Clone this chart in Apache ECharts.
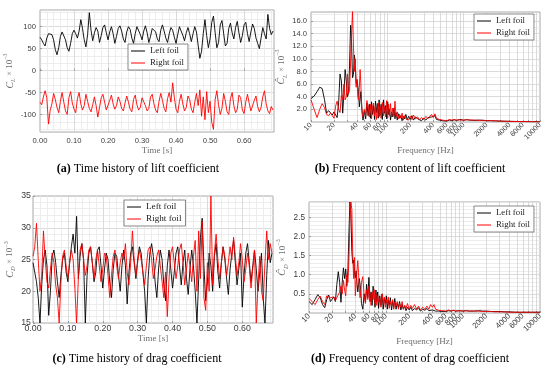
<!DOCTYPE html>
<html>
<head>
<meta charset="utf-8">
<script src="https://cdn.jsdelivr.net/npm/echarts@6/dist/echarts.min.js"></script>
<style>
html,body{margin:0;padding:0;background:#fff;}
#c{width:550px;height:375px;}
</style>
</head>
<body>
<div id="c"></div>
<script>
// ---------------- DATA ----------------
const timeS = [0.000,0.005,0.010,0.015,0.020,0.025,0.030,0.035,0.040,0.045,
0.050,0.055,0.060,0.065,0.070,0.075,0.080,0.085,0.090,0.095,
0.100,0.105,0.110,0.115,0.120,0.125,0.130,0.135,0.140,0.145,
0.150,0.155,0.160,0.165,0.170,0.175,0.180,0.185,0.190,0.195,
0.200,0.205,0.210,0.215,0.220,0.225,0.230,0.235,0.240,0.245,
0.250,0.255,0.260,0.265,0.270,0.275,0.280,0.285,0.290,0.295,
0.300,0.305,0.310,0.315,0.320,0.325,0.330,0.335,0.340,0.345,
0.350,0.355,0.360,0.365,0.370,0.375,0.380,0.385,0.390,0.395,
0.400,0.405,0.410,0.415,0.420,0.425,0.430,0.435,0.440,0.445,
0.450,0.455,0.460,0.465,0.470,0.475,0.480,0.485,0.490,0.495,
0.500,0.505,0.510,0.515,0.520,0.525,0.530,0.535,0.540,0.545,
0.550,0.555,0.560,0.565,0.570,0.575,0.580,0.585,0.590,0.595,
0.600,0.605,0.610,0.615,0.620,0.625,0.630,0.635,0.640,0.645,
0.650,0.655,0.660,0.665,0.670,0.675,0.680,0.685];

const liftLeft = [76,70,62,56,74,84,87,82,70,48, 36,52,78,88,84,70,52,44,62,84,
92,84,74,90,116,96,70,54,82,132, 92,68,86,98,90,64,80,98,104,86,
70,88,100,84,62,78,96,102,90,72, 64,88,100,94,74,62,84,100,96,82,
70,90,102,86,64,78,96,100,88,72, 66,92,104,90,74,64,84,98,92,76,
62,82,100,96,80,68,86,98,84,66, 84,100,88,58,28,44,84,116,80,52,
72,110,124,86,52,64,104,114,84,56, 62,96,108,86,72,98,112,86,64,80,
104,110,84,66,88,106,96,74,62,50, 74,98,84,72,128,96,82,90];

const liftRight = [-72,-78,-60,-46,-62,-122,-90,-76,-52,-66, -84,-96,-70,-50,-72,-92,-100,-62,-48,-74,
-88,-96,-64,-50,-76,-90,-80,-54,-70,-86, -94,-78,-60,-80,-106,-84,-62,-54,-72,-90,
-94,-68,-56,-76,-88,-80,-60,-70,-86,-92, -74,-58,-72,-88,-94,-66,-56,-78,-90,-84,
-62,-58,-80,-92,-86,-60,-54,-76,-90,-96, -70,-52,-68,-86,-94,-64,-50,-72,-28,-62,
-88,-96,-70,-54,-76,-92,-84,-58,-66,-88, -96,-72,-52,-80,-44,-104,-60,-112,-48,-96,
-70,-118,-134,-66,-46,-78,-100,-86,-52,-70, -94,-100,-64,-50,-80,-96,-88,-56,-62,-90,
-98,-72,-54,-74,-92,-96,-68,-58,-82,-94, -84,-60,-46,-76,-92,-98,-82,-90];

const dragLeft = [24.5,23.0,21.5,19.0,15.0,21.0,25.0,26.5,24.0,16.2, 20.0,25.5,26.5,24.5,21.5,19.0,22.5,25.0,26.0,23.0,
21.5,24.5,27.0,29.0,26.0,31.8,22.0,25.5,27.5,25.0, 15.0,22.5,26.0,27.0,24.5,21.5,23.0,26.5,27.0,24.0,
20.5,23.5,26.0,25.0,21.5,19.0,23.5,26.0,25.5,22.5, 20.0,24.0,26.5,24.0,18.0,23.0,26.0,27.0,24.5,22.0,
25.0,27.0,26.0,23.0,20.0,15.0,22.0,26.0,27.5,25.5, 21.5,19.0,23.5,26.5,25.0,21.0,18.5,24.0,26.5,23.5,
20.5,23.0,26.0,27.0,24.0,21.0,24.5,26.5,22.0,19.5, 23.5,26.5,24.0,20.0,15.0,22.0,28.5,31.5,24.0,18.5,
21.5,26.0,24.0,20.0,25.5,27.5,23.0,20.5,24.5,27.0, 25.0,22.0,19.5,23.5,26.0,28.0,24.5,21.0,23.5,26.0,
17.5,22.5,26.0,27.5,24.5,21.5,24.0,26.5,23.5,20.0, 23.0,26.0,19.0,15.0,22.5,28.0,24.5,26.0];

const dragRight = [25.5,27.0,30.7,25.0,20.0,22.5,29.5,25.0,21.5,20.5, 23.5,26.0,24.5,21.0,19.0,15.0,21.5,25.5,26.5,24.0,
22.0,24.5,26.5,25.0,20.5,15.0,22.0,26.5,27.5,25.0, 22.5,24.0,26.5,27.0,24.5,22.0,25.0,26.5,24.0,21.5,
23.5,26.0,25.5,22.5,19.0,22.5,25.5,26.5,24.0,22.0, 24.5,26.0,25.0,27.5,23.0,21.0,24.5,29.5,25.0,22.5,
24.5,26.5,25.0,23.0,21.0,24.0,26.5,27.0,25.0,22.0, 23.5,25.5,26.5,24.0,21.5,19.0,23.0,16.0,22.0,26.0,
27.0,24.5,22.0,24.0,26.5,27.5,24.5,21.0,23.5,26.0, 24.0,21.5,25.5,28.0,20.0,29.5,22.0,31.0,19.0,17.0,
24.5,20.0,35.0,21.0,26.0,29.0,25.0,22.0,24.5,27.0, 25.5,22.5,24.5,27.0,25.0,28.5,25.5,22.5,24.5,27.5,
25.0,21.5,23.5,26.0,24.0,20.5,23.5,26.5,15.0,21.0, 25.5,20.0,18.5,24.5,29.5,25.0,27.5,26.0];

const freqHz = [10,11,12,13,14,15,16,17,18,19, 20,21,22,23,24,25,26,27,28,29,
30,31,32,33,34,35,36,37,38,39, 40,41,42,43,44,45,46,47,48,50,
52,54,56,58,60,62,64,66,68,70, 72,74,76,78,80,83,86,89,92,95,
98,101,104,107,110,114,118,122,126,130, 135,140,145,150,156,162,168,175,182,190,
200,210,220,235,250,265,280,300,320,340, 360,380,400,420,440,460,480,500,530,560,
600,650,700,750,800,900,1000,1100,1200,1400, 1600,1800,2000,2300,2600,3000,3500,4000,5000,6000,
7000,8000,9000,10000];

const liftAmpLeft = [3.7,4.1,4.8,5.5,5.3,3.6,1.4,1.8,1.5,1.1, 1.6,1.5,0.7,3.0,7.6,6.5,1.4,4.5,8.3,6.5,
4.0,4.5,9.0,15.3,12.5,7.0,7.5,10.6,9.0,6.1, 6.6,6.8,4.8,2.4,3.5,4.8,3.0,1.2,0.3,1.8,
0.5,3.0,1.0,2.8,0.6,3.2,1.2,2.6,0.4,3.3, 1.5,2.9,0.6,3.5,1.0,2.8,0.4,3.5,1.4,2.6,
0.5,3.2,1.2,2.0,0.3,1.6,0.8,2.2,0.5,1.5, 0.3,1.3,0.6,1.0,0.2,0.9,0.5,1.2,0.3,0.9,
0.4,1.0,0.3,0.8,0.5,0.7,0.2,0.6,0.3,0.7, 0.4,0.8,0.5,1.0,0.4,0.7,0.3,0.5,0.2,0.35,
0.15,0.3,0.2,0.35,0.25,0.4,0.3,0.35,0.3,0.25, 0.3,0.25,0.22,0.2,0.18,0.15,0.12,0.1,0.08,0.06,
0.05,0.04,0.04,0.03];

const liftAmpRight = [3.5,2.0,0.7,2.0,2.9,2.3,1.2,1.0,1.4,1.0, 0.6,2.5,3.3,2.0,1.5,4.2,3.5,6.0,3.5,4.0,
7.6,4.5,5.0,9.5,14.0,17.5,12.0,8.0,10.0,5.5, 6.8,4.0,3.5,5.5,8.3,6.0,2.5,1.3,0.8,2.0,
1.0,3.4,2.5,0.8,2.8,0.5,2.4,3.0,1.0,2.6, 0.4,2.2,3.0,0.8,2.5,0.6,3.1,1.0,2.4,0.8,
3.4,0.6,2.8,1.0,2.9,0.8,2.2,1.0,3.3,0.8, 1.6,0.5,1.2,0.6,1.4,0.3,1.0,0.5,0.8,0.3,
0.9,0.4,1.1,0.5,0.8,0.3,0.7,0.4,0.9,0.5, 0.6,1.2,0.7,1.3,0.6,0.9,0.4,0.7,0.3,0.5,
0.2,0.4,0.3,0.4,0.3,0.35,0.25,0.4,0.3,0.3, 0.25,0.28,0.2,0.22,0.18,0.14,0.12,0.1,0.08,0.06,
0.05,0.04,0.03,0.03];

const dragAmpLeft = [0.30,0.22,0.35,0.48,0.40,0.22,0.14,0.35,0.47,0.30, 0.35,0.42,0.30,0.75,1.08,0.80,0.28,0.80,1.18,0.90,
1.15,0.70,1.10,2.10,2.90,2.60,1.60,1.30,1.38,1.05, 0.92,1.10,0.78,0.55,0.74,0.90,0.95,0.60,0.25,0.10,
0.50,0.30,0.75,0.40,0.93,0.30,0.55,0.20,0.70,0.45, 0.15,0.60,0.30,0.55,0.12,0.45,0.20,0.50,0.10,0.38,
0.25,0.45,0.10,0.35,0.20,0.40,0.08,0.30,0.15,0.38, 0.10,0.25,0.15,0.30,0.08,0.22,0.10,0.18,0.06,0.15,
0.08,0.15,0.06,0.12,0.08,0.14,0.05,0.10,0.07,0.12, 0.06,0.10,0.08,0.13,0.05,0.09,0.05,0.07,0.04,0.06,
0.04,0.06,0.05,0.07,0.05,0.06,0.05,0.06,0.05,0.05, 0.06,0.05,0.05,0.04,0.04,0.04,0.03,0.03,0.02,0.02,
0.02,0.02,0.02,0.02];

const dragAmpRight = [0.38,0.30,0.22,0.35,0.44,0.30,0.22,0.45,0.42,0.40, 0.38,0.42,0.32,0.40,0.45,0.55,0.70,0.50,0.85,0.60,
0.45,1.00,0.80,1.40,2.40,2.90,2.70,1.50,0.90,1.45, 0.45,0.80,1.10,1.37,1.05,0.65,0.40,0.55,0.80,0.95,
0.45,0.25,0.60,0.35,0.70,0.50,0.20,0.55,0.35,0.62, 0.25,0.50,0.20,0.45,0.30,0.40,0.15,0.50,0.25,0.42,
0.15,0.35,0.25,0.42,0.12,0.30,0.20,0.35,0.10,0.28, 0.18,0.30,0.10,0.25,0.15,0.30,0.10,0.20,0.12,0.25,
0.10,0.20,0.12,0.22,0.10,0.18,0.08,0.15,0.10,0.18, 0.10,0.22,0.15,0.22,0.10,0.15,0.07,0.10,0.06,0.09,
0.05,0.08,0.05,0.07,0.05,0.06,0.05,0.06,0.05,0.05, 0.05,0.04,0.04,0.04,0.03,0.03,0.03,0.02,0.02,0.02,
0.02,0.02,0.02,0.02];

const timeTicks = [0, 0.1, 0.2, 0.3, 0.4, 0.5, 0.6];
const liftTicks = [-100, -50, 0, 50, 100];
const dragTicks = [15, 20, 25, 30, 35];
const liftAmpTicks = [2, 4, 6, 8, 10, 12, 14, 16];
const dragAmpTicks = [0.5, 1.0, 1.5, 2.0, 2.5];
const freqTicks = [10, 20, 40, 60, 80, 100, 200, 400, 600, 800, 1000, 2000, 4000, 6000, 8000, 10000];
const freqGridLines = [10,20,30,40,50,60,70,80,90,100,200,300,400,500,600,700,800,900,1000,2000,3000,4000,5000,6000,7000,8000,9000,10000];
const seriesNames = ['Left foil', 'Right foil'];
const captions = [
  ['(a)', ' Time history of lift coefficient'],
  ['(b)', ' Frequency content of lift coefficient'],
  ['(c)', ' Time history of drag coefficient'],
  ['(d)', ' Frequency content of drag coefficient']
];

// ---------------- helpers ----------------
function minorsBetween(lo, hi, step, majorStep) {
  const out = [];
  const n = Math.round((hi - lo) / step);
  for (let k = 0; k <= n; k++) {
    const v = +(lo + k * step).toFixed(4);
    const r = v / majorStep;
    if (Math.abs(r - Math.round(r)) > 1e-6) out.push(v);
  }
  return out;
}
const SERIF = 'Liberation Serif';
const SANS = 'Liberation Sans';
const MAJ = '#d2d2d2';
const MIN = '#e9e9e9';
const NAMEC = '#6e6e6e';
const TICKC = '#3a3a3a';

const panels = [
  {grid:{left:40, top:10, width:234, height:122}, xType:'value', xMin:0, xMax:0.688, xTicks:timeTicks, xGrid:timeTicks,
   xMinor:minorsBetween(0,0.68,0.02,0.1), xFmt:v=>v.toFixed(2), xName:'Time [s]', xGap:14, xFont:7.6, xMargin:5, rot:0,
   yMin:-140, yMax:138, yTicks:liftTicks, yMinor:minorsBetween(-400/3,400/3,50/3,50), yFmt:v=>String(v), yFont:7.6, yMargin:4,
   yName:'{c|C}{s|L}{t| × 10}{p|−3}', yGap:21,
   left:liftLeft, right:liftRight, x:timeS,
   legend:{left:128, top:44}, legendFont:8.8},
  {grid:{left:311, top:12, width:229, height:110}, xType:'log', xMin:10, xMax:10000, xTicks:freqTicks, xGrid:freqGridLines,
   xMinor:null, xFmt:v=>String(Math.round(v)), xName:'Frequency [Hz]', xGap:24, xFont:7.4, xMargin:2, rot:45,
   yMin:0, yMax:17.4, yTicks:liftAmpTicks, yMinor:minorsBetween(1,17,1,2), yFmt:v=>v.toFixed(1), yFont:7.6, yMargin:4,
   yName:'{c|Ĉ}{s|L}{t| × 10}{p|−3}', yGap:20,
   left:liftAmpLeft, right:liftAmpRight, x:freqHz,
   legend:{left:474, top:14}, legendFont:8.8},
  {grid:{left:33, top:196, width:240, height:127}, xType:'value', xMin:0, xMax:0.688, xTicks:timeTicks, xGrid:timeTicks,
   xMinor:minorsBetween(0,0.68,0.02,0.1), xFmt:v=>v.toFixed(2), xName:'Time [s]', xGap:10, xFont:8.8, xMargin:1, rot:0,
   yMin:15, yMax:35, yTicks:dragTicks, yMinor:minorsBetween(15,35,1,5), yFmt:v=>String(v), yFont:8.8, yMargin:2,
   yName:'{c|C}{s|D}{t| × 10}{p|−3}', yGap:16,
   left:dragLeft, right:dragRight, x:timeS,
   legend:{left:124, top:200}, legendFont:9.2},
  {grid:{left:309, top:202, width:231, height:111}, xType:'log', xMin:10, xMax:10000, xTicks:freqTicks, xGrid:freqGridLines,
   xMinor:null, xFmt:v=>String(Math.round(v)), xName:'Frequency [Hz]', xGap:24, xFont:7.8, xMargin:2, rot:45,
   yMin:0, yMax:2.9, yTicks:dragAmpTicks, yMinor:minorsBetween(0.1,2.9,0.1,0.5), yFmt:v=>v.toFixed(1), yFont:8.2, yMargin:4,
   yName:'{c|Ĉ}{s|D}{t| × 10}{p|−3}', yGap:19,
   left:dragAmpLeft, right:dragAmpRight, x:freqHz,
   legend:{left:474, top:206}, legendFont:8.8}
];

function nameRich() {
  return {
    c:{fontFamily:SERIF, fontStyle:'italic', fontSize:10, color:NAMEC, lineHeight:14},
    s:{fontFamily:SERIF, fontStyle:'italic', fontSize:6.5, color:NAMEC, verticalAlign:'bottom', lineHeight:9},
    t:{fontFamily:SERIF, fontSize:9, color:NAMEC, lineHeight:14},
    p:{fontFamily:SERIF, fontSize:6, color:NAMEC, verticalAlign:'top', lineHeight:9}
  };
}

const option = {animation:false, backgroundColor:'#fff', grid:[], xAxis:[], yAxis:[], series:[], legend:[], graphic:[]};

panels.forEach((p, i) => {
  option.grid.push(Object.assign({show:true, borderColor:'#a8a8a8', borderWidth:1, backgroundColor:'#fff', containLabel:false}, p.grid));
  option.xAxis.push({
    type:p.xType, gridIndex:i, min:p.xMin, max:p.xMax, logBase:10,
    axisLine:{show:false},
    axisTick:{show:true, inside:true, length:2, customValues:p.xGrid, lineStyle:{color:'#999'}},
    axisLabel:{customValues:p.xTicks, formatter:p.xFmt, fontFamily:SANS, fontSize:p.xFont, color:TICKC, margin:p.xMargin, rotate:p.rot,
      showMinLabel:true, showMaxLabel:true, hideOverlap:false},
    splitLine:{show:true, lineStyle:{color:MAJ, width:0.8}},
    name:p.xName, nameLocation:'middle', nameGap:p.xGap,
    nameTextStyle:{fontFamily:SERIF, fontSize:9, color:NAMEC}
  });
  option.yAxis.push({
    type:'value', gridIndex:i, min:p.yMin, max:p.yMax,
    axisLine:{show:false},
    axisTick:{show:true, inside:true, length:2, customValues:p.yTicks, lineStyle:{color:'#999'}},
    axisLabel:{customValues:p.yTicks, formatter:p.yFmt, fontFamily:SANS, fontSize:p.yFont, color:TICKC, margin:p.yMargin,
      showMinLabel:true, showMaxLabel:true},
    splitLine:{show:true, lineStyle:{color:MAJ, width:0.8}},
    name:p.yName, nameLocation:'middle', nameGap:p.yGap, nameRotate:90,
    nameTextStyle:{rich:nameRich()}
  });
  option.legend.push({
    left:p.legend.left, top:p.legend.top, orient:'vertical', data:seriesNames,
    icon:'rect', itemWidth:14, itemHeight:1,
    backgroundColor:'#fff', borderColor:'#6a6a6a', borderWidth:0.8, borderRadius:0,
    padding:[2,4,2,3], itemGap:2,
    textStyle:{fontFamily:SERIF, fontSize:p.legendFont, color:'#222', lineHeight:10}
  });
  const mk = (name, vals, color) => ({
    type:'line', name:name, xAxisIndex:i, yAxisIndex:i, symbol:'none', showSymbol:false,
    lineStyle:{width:0.9, color:color}, itemStyle:{color:color}, clip:true, z:3,
    data:p.x.map((xv, k) => [xv, vals[k]])
  });
  option.series.push(mk(seriesNames[0], p.left, '#000000'));
  option.series.push(mk(seriesNames[1], p.right, '#ff0000'));
});

// minor grid axes (hidden, only split lines)
panels.forEach((p, i) => {
  if (p.xMinor) {
    option.xAxis.push({type:p.xType, gridIndex:i, min:p.xMin, max:p.xMax, show:true,
      axisLine:{show:false}, axisLabel:{show:false},
      axisTick:{show:false, customValues:p.xMinor},
      splitLine:{show:true, lineStyle:{color:MIN, width:0.8}}});
  }
  option.yAxis.push({type:'value', gridIndex:i, min:p.yMin, max:p.yMax, position:'left', show:true,
    axisLine:{show:false}, axisLabel:{show:false},
    axisTick:{show:false, customValues:p.yMinor},
    splitLine:{show:true, lineStyle:{color:MIN, width:0.8}}});
});

const capPos = [[138,168.5],[410,168.5],[137,358.5],[410,358.5]];
captions.forEach((c, i) => {
  option.graphic.push({
    type:'text', x:capPos[i][0], y:capPos[i][1], z:10,
    style:{
      text:'{b|' + c[0] + '}{n|' + c[1] + '}',
      rich:{
        b:{fontFamily:SERIF, fontWeight:'bold', fontSize:12, fill:'#000'},
        n:{fontFamily:SERIF, fontSize:12, fill:'#000'}
      },
      fontFamily:SERIF, fontSize:12, fill:'#000',
      align:'center', verticalAlign:'middle', textAlign:'center', textVerticalAlign:'middle'
    }
  });
});

const chart = echarts.init(document.getElementById('c'), null, {renderer:'canvas'});
chart.setOption(option);
</script>
</body>
</html>
